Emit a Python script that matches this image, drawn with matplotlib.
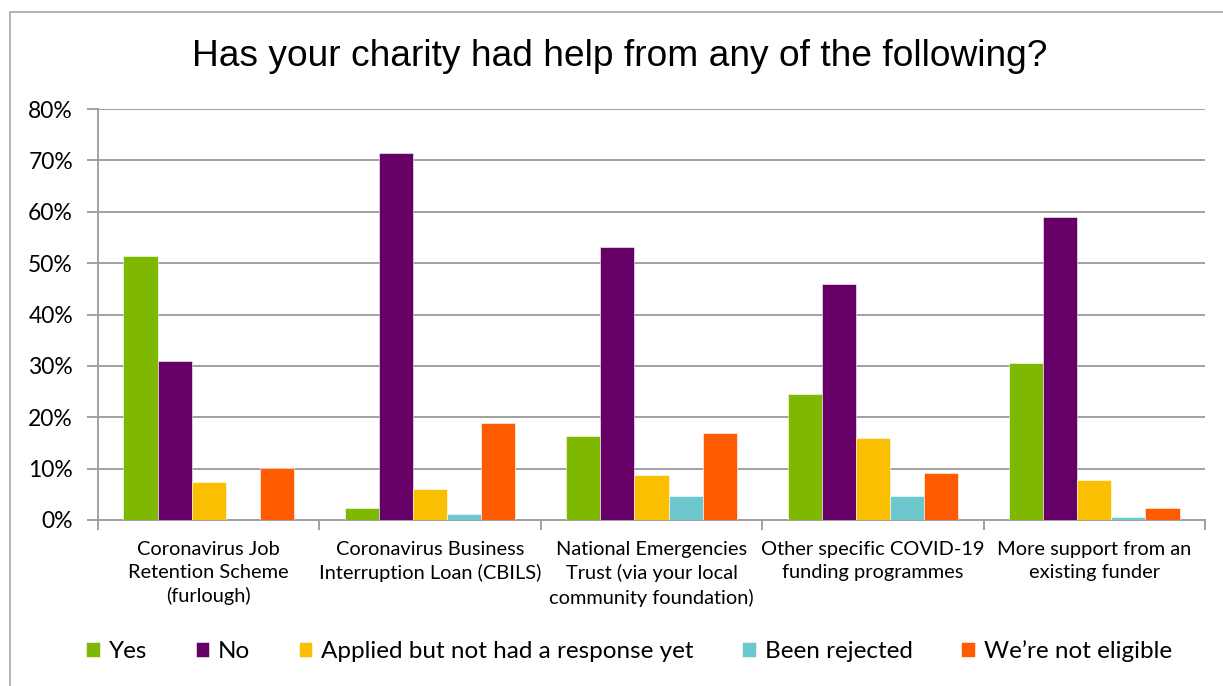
import numpy as np
import matplotlib.pyplot as plt
from matplotlib.patches import Rectangle
from matplotlib.ticker import FixedLocator, PercentFormatter

categories = ["Coronavirus Job\nRetention Scheme\n(furlough)",
              "Coronavirus Business\nInterruption Loan (CBILS)",
              "National Emergencies\nTrust (via your local\ncommunity foundation)",
              "Other specific COVID-19\nfunding programmes",
              "More support from an\nexisting funder"]
series = ["Yes", "No", "Applied but not had a response yet",
          "Been rejected", "We\u2019re not eligible"]
yes = [51.4, 2.4, 16.3, 24.5, 30.5]
no = [31.0, 71.5, 53.2, 46.0, 58.9]
applied = [7.3, 6.0, 8.8, 15.9, 7.7]
rejected = [0.0, 1.2, 4.7, 4.6, 0.6]
not_eligible = [10.2, 18.9, 17.0, 9.1, 2.4]
colors = ["#7FB800", "#660066", "#F9BF00", "#6CC8CC", "#FF5B00"]

W, H = 1223, 686
fig = plt.figure(figsize=(W / 100, H / 100), dpi=100)
ax = fig.add_axes([98 / W, 1 - 520 / H, (1205 - 98) / W, (520 - 109) / H])

# outer chart border
fig.patches.append(Rectangle((10 / W, -0.1), 1.2, 1 - 12 / H + 0.1,
                             transform=fig.transFigure, fill=False,
                             edgecolor="#A6A6A6", lw=1.2))

x = np.arange(len(categories))
bw = 0.154
for i, (vals, name) in enumerate(zip([yes, no, applied, rejected, not_eligible], series)):
    ax.bar(x + (i - 2) * bw, vals, bw, color=colors[i], label=name,
           edgecolor="white", linewidth=0.4, zorder=3)

ax.set_xlim(-0.5, len(categories) - 0.5)
ax.set_ylim(0, 80)
ax.yaxis.set_major_locator(FixedLocator(np.arange(0, 81, 10)))
ax.yaxis.set_major_formatter(PercentFormatter(decimals=0))
ax.grid(axis="y", color="#A0A0A0", lw=1.4, zorder=0)
ax.set_axisbelow(True)

ax.set_xticks(np.arange(-0.5, len(categories), 1))
ax.set_xticklabels([])
ax.set_xticks(x, minor=True)
ax.set_xticklabels(categories, minor=True, fontsize=14.4, family="Lato",
                   linespacing=1.42)
ax.tick_params(axis="x", which="major", length=7, color="#A0A0A0", width=1.4)
ax.tick_params(axis="x", which="minor", length=0, pad=15)
ax.tick_params(axis="y", length=8, color="#A0A0A0", width=1.4, labelsize=16.5,
               pad=10)
for lab in ax.get_yticklabels():
    lab.set_family("Lato")

for s in ["top", "right"]:
    ax.spines[s].set_visible(False)
for s in ["left", "bottom"]:
    ax.spines[s].set_color("#A0A0A0")
    ax.spines[s].set_linewidth(1.4)

fig.text(620 / W, 1 - 57 / H, "Has your charity had help from any of the following?",
         ha="center", va="center", fontsize=26.7, family="Liberation Sans")

fig.legend(loc="center", bbox_to_anchor=(629 / W, 1 - 651 / H), ncol=5,
           frameon=False, prop={"family": "Lato", "size": 17.5},
           handlelength=0.55, handleheight=0.55, handletextpad=0.37,
           columnspacing=2.0)

fig.savefig("out.png", dpi=100)
